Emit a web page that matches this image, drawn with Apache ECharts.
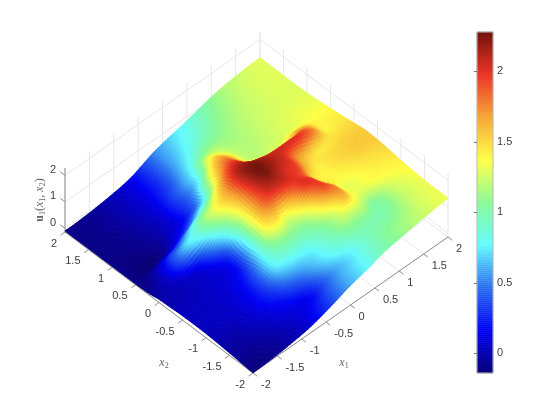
<!DOCTYPE html>
<html><head><meta charset="utf-8">
<style>html,body{margin:0;padding:0;background:#fff}#c{width:560px;height:420px}</style>
<script src="https://cdn.jsdelivr.net/npm/echarts@6/dist/echarts.min.js"></script>
</head><body><div id="c"></div>
<script>
const x1Values=[-2,-1.8,-1.6,-1.4,-1.2,-1,-.8,-.6,-.4,-.2,0,.2,.4,.6,.8,1,1.2,1.4,1.6,1.8,2];
const x2Values=[2,1.8,1.6,1.4,1.2,1,.8,.6,.4,.2,0,-.2,-.4,-.6,-.8,-1,-1.2,-1.4,-1.6,-1.8,-2];
const u_p20=[-.10,-.10,-.08,-.05,-.01,.04,.10,.20,.36,.52,.63,.72,.80,.90,1.00,1.10,1.17,1.22,1.26,1.29,1.30];
const u_p18=[-.10,-.10,-.08,-.05,-.01,.04,.10,.20,.36,.54,.66,.77,.85,.95,1.05,1.13,1.19,1.24,1.27,1.29,1.30];
const u_p16=[-.10,-.10,-.08,-.05,-.01,.04,.10,.21,.37,.56,.71,.83,.93,1.02,1.10,1.16,1.21,1.25,1.28,1.29,1.30];
const u_p14=[-.10,-.10,-.09,-.06,-.02,.04,.11,.25,.41,.63,.82,.98,1.04,1.09,1.14,1.19,1.23,1.26,1.28,1.29,1.29];
const u_p12=[-.10,-.10,-.09,-.07,-.03,.03,.12,.30,.50,.72,1.05,1.15,1.14,1.14,1.17,1.21,1.24,1.26,1.28,1.29,1.29];
const u_p10=[-.10,-.11,-.10,-.08,-.04,.02,.11,.28,.48,.82,1.38,1.32,1.20,1.17,1.19,1.23,1.26,1.28,1.29,1.30,1.30];
const u_p08=[-.10,-.12,-.12,-.10,-.06,.05,.13,.30,.62,1.30,1.65,1.50,1.25,1.19,1.21,1.24,1.28,1.30,1.33,1.33,1.33];
const u_p06=[-.10,-.13,-.14,-.10,.03,.20,.42,.72,1.00,1.60,1.85,1.60,1.30,1.22,1.24,1.27,1.30,1.33,1.35,1.36,1.37];
const u_p04=[-.10,-.08,.08,.30,.45,.70,.98,1.15,1.50,1.92,2.05,1.75,1.60,1.42,1.38,1.42,1.65,1.60,1.42,1.41,1.41];
const u_p02=[-.08,-.02,.12,.42,.72,.85,1.15,1.40,1.68,2.10,2.22,2.15,2.05,2.02,2.02,2.00,1.90,1.70,1.42,1.44,1.45];
const u_000=[-.02,.00,.03,.08,.15,.42,.75,1.15,1.55,2.05,2.28,2.22,2.12,2.00,1.75,1.60,1.48,1.46,1.48,1.49,1.50];
const u_m02=[.00,.00,.02,.04,.07,.12,.30,.85,1.45,1.95,2.20,2.15,2.02,1.95,1.65,1.45,1.47,1.50,1.53,1.54,1.55];
const u_m04=[.02,.02,.03,.05,.07,.10,.22,.72,1.45,1.85,1.95,2.00,2.00,1.85,1.48,1.40,1.45,1.50,1.54,1.55,1.55];
const u_m06=[.03,.03,.04,.05,.08,.14,.30,.75,1.35,1.50,1.35,1.55,1.95,1.95,1.55,1.40,1.40,1.44,1.48,1.50,1.52];
const u_m08=[.03,.03,.04,.06,.10,.18,.40,.78,1.05,1.12,1.10,1.15,1.45,1.88,1.75,1.35,1.33,1.38,1.42,1.44,1.47];
const u_m10=[.02,.03,.04,.06,.12,.20,.42,.75,.85,.88,.90,.98,1.12,1.35,1.65,1.38,1.30,1.36,1.38,1.40,1.42];
const u_m12=[.00,.00,.01,.05,.10,.20,.32,.52,.62,.68,.75,.88,1.02,1.18,1.22,1.20,1.05,1.12,1.27,1.33,1.38];
const u_m14=[-.03,-.03,-.02,.02,.07,.12,.18,.28,.38,.55,.70,.82,.90,1.00,1.02,1.00,1.00,1.08,1.22,1.29,1.35];
const u_m16=[-.06,-.06,-.05,-.02,.02,.07,.10,.12,.20,.38,.55,.66,.76,.88,.98,1.02,1.05,1.13,1.23,1.29,1.33];
const u_m18=[-.10,-.10,-.08,-.05,-.01,.03,.09,.17,.28,.44,.58,.68,.78,.90,1.00,1.08,1.13,1.18,1.25,1.30,1.33];
const u_m20=[-.13,-.12,-.10,-.07,-.02,.03,.10,.21,.33,.47,.60,.70,.80,.93,1.02,1.08,1.14,1.20,1.25,1.30,1.33];
const surfaceRows=[u_p20,u_p18,u_p16,u_p14,u_p12,u_p10,u_p08,u_p06,u_p04,u_p02,u_000,u_m02,u_m04,u_m06,u_m08,u_m10,u_m12,u_m14,u_m16,u_m18,u_m20];
const x1Ticks=[-2,-1.5,-1,-.5,0,.5,1,1.5,2];
const x2Ticks=[-2,-1.5,-1,-.5,0,.5,1,1.5,2];
const zTicks=[0,1,2];
const barTicks=[0,.5,1,1.5,2];
const zMin=-.14, zMax=2.28;
const jetColors=['#0a0078','#0000f5','#2a6ef0','#64faff','#88fa96','#ffff46','#f5a532','#eb3223','#73140c'];

const SUB=6;
function project(x1,x2,z){
  const a=x1+2,b=x2+2;
  return [253+48.75*a-47*b, 373-34*a-35.25*b-26.45*(z-zMin)];
}
function cr(p0,p1,p2,p3,t){
  return .5*(2*p1+(p2-p0)*t+(2*p0-5*p1+4*p2-p3)*t*t+(3*p1-p0-3*p2+p3)*t*t*t);
}
const nR=surfaceRows.length,nC=x1Values.length;
function at(r,c){r=Math.max(0,Math.min(nR-1,r));c=Math.max(0,Math.min(nC-1,c));return surfaceRows[r][c];}
function smooth(rf,cf){
  let r=Math.min(nR-2,Math.floor(rf)),c=Math.min(nC-2,Math.floor(cf));
  const tr=rf-r,tc=cf-c,col=[];
  for(let k=-1;k<=2;k++)col.push(cr(at(r+k,c-1),at(r+k,c),at(r+k,c+1),at(r+k,c+2),tc));
  return Math.max(zMin,Math.min(zMax,cr(col[0],col[1],col[2],col[3],tr)));
}
const N=(nR-1)*SUB+1,fine=[];
for(let r=0;r<N;r++){const row=[];for(let c=0;c<N;c++)row.push(smooth(r/SUB,c/SUB));fine.push(row);}
const h=.2/SUB;
const cells=[];
for(let s=2*(N-2);s>=0;s--){
  for(let c=Math.min(N-2,s);c>=0&&s-c<=N-2;c--){
    const dr=s-c,r=N-2-dr;
    const x1=-2+c*h,x2=2-r*h;
    const z=[fine[r][c],fine[r][c+1],fine[r+1][c+1],fine[r+1][c]];
    cells.push([(z[0]+z[1]+z[2]+z[3])/4,x1,x2,z[0],z[1],z[2],z[3]]);
  }
}
function renderCell(p,api){
  const x1=api.value(1),x2=api.value(2);
  const pts=[[x1,x2,api.value(3)],[x1+h,x2,api.value(4)],[x1+h,x2-h,api.value(5)],[x1,x2-h,api.value(6)]]
    .map(q=>api.coord(project(q[0],q[1],q[2])));
  const col=api.visual('color');
  return {type:'polygon',shape:{points:pts},style:{fill:col,stroke:col,lineWidth:1},silent:true};
}
const wall=[],axisSeg=[];
x1Ticks.forEach(t=>{
  wall.push([t,2,zMin,t,2,zMax]);
  wall.push([t,-2,zMin,t,2,zMin]);
  axisSeg.push([t,-2,zMin,t,-2.09,zMin]);
});
x2Ticks.forEach(t=>{
  wall.push([2,t,zMin,2,t,zMax]);
  wall.push([-2,t,zMin,2,t,zMin]);
  axisSeg.push([-2,t,zMin,-2.09,t,zMin]);
});
zTicks.forEach(t=>{
  wall.push([-2,2,t,2,2,t]);
  wall.push([2,2,t,2,-2,t]);
  axisSeg.push([-2,2,t,-2,2.1,t]);
});
axisSeg.push([-2,-2,zMin,2,-2,zMin]);
axisSeg.push([-2,-2,zMin,-2,2,zMin]);
axisSeg.push([-2,2,zMin,-2,2,zMax]);
function segRender(color){
  return function(p,api){
    const a=api.coord(project(api.value(0),api.value(1),api.value(2)));
    const b=api.coord(project(api.value(3),api.value(4),api.value(5)));
    return {type:'line',shape:{x1:a[0],y1:a[1],x2:b[0],y2:b[1]},style:{stroke:color,lineWidth:1},silent:true};
  };
}
const fmt=v=>String(v);
const labels=[];
x1Ticks.forEach(t=>labels.push([t,-2,zMin,fmt(t),8,12,'left']));
x2Ticks.forEach(t=>labels.push([-2,t,zMin,fmt(t),-8,11.5,'right']));
zTicks.forEach(t=>labels.push([-2,2,t,fmt(t),-9,-5.7,'right']));
function labelRender(p,api){
  const q=labels[api.value(0)];
  const c=api.coord(project(q[0],q[1],q[2]));
  return {type:'text',x:c[0]+q[4],y:c[1]+q[5],style:{text:q[3],align:q[6],verticalAlign:'middle',
    font:'11px "Liberation Sans"',fill:'#3c3c3c'},silent:true};
}
const barSteps=[];
const nb=170;
for(let i=0;i<nb;i++){const lo=zMin+(zMax-zMin)*i/nb,hi=zMin+(zMax-zMin)*(i+1)/nb;barSteps.push([(lo+hi)/2,lo,hi]);}
function barRender(p,api){
  const a=api.coord([0,api.value(1)]),b=api.coord([1,api.value(2)]);
  const col=api.visual('color');
  return {type:'rect',shape:{x:a[0],y:b[1],width:b[0]-a[0],height:a[1]-b[1]},style:{fill:col,stroke:col,lineWidth:.5},silent:true};
}
const sub={fontFamily:'Liberation Serif',fontSize:8,fill:'#666',verticalAlign:'bottom',padding:[5,0,0,0]};
const ital={fontFamily:'Liberation Serif',fontStyle:'italic',fontSize:12,fill:'#666'};
const chart=echarts.init(document.getElementById('c'),null,{renderer:'canvas'});
chart.setOption({
  animation:false,
  backgroundColor:'#fff',
  grid:[
    {left:0,top:0,width:560,height:420,show:false},
    {left:477,top:32,width:16,height:341,show:true,borderColor:'#bdbdbd',borderWidth:1,backgroundColor:'transparent',z:5}
  ],
  xAxis:[
    {gridIndex:0,type:'value',min:0,max:560,show:false},
    {gridIndex:1,type:'value',min:0,max:1,show:false}
  ],
  yAxis:[
    {gridIndex:0,type:'value',min:0,max:420,inverse:true,show:false},
    {gridIndex:1,type:'value',min:zMin,max:zMax,position:'right',splitLine:{show:false},
     axisLine:{show:false},
     axisTick:{show:true,inside:true,length:3,lineStyle:{color:'#777',width:1},customValues:barTicks},
     axisLabel:{show:true,margin:4,color:'#3c3c3c',fontFamily:'Liberation Sans',fontSize:11,customValues:barTicks,
       showMinLabel:true,showMaxLabel:true,formatter:v=>String(v)},z:6}
  ],
  visualMap:{show:false,type:'continuous',min:zMin,max:zMax,dimension:0,seriesIndex:[3,4],inRange:{color:jetColors}},
  graphic:[
    {type:'text',x:344,y:363,style:{text:'{i|x}{s|1}',align:'center',verticalAlign:'middle',rich:{i:ital,s:sub}}},
    {type:'text',x:164,y:363,style:{text:'{i|x}{s|2}',align:'center',verticalAlign:'middle',rich:{i:ital,s:sub}}},
    {type:'text',x:40,y:200,rotation:Math.PI/2,style:{text:'{b|u}{s|1}{p|(}{i|x}{s|1}{p|, }{i|x}{s|2}{p|)}',align:'center',verticalAlign:'middle',
      rich:{i:ital,s:sub,b:{fontFamily:'Liberation Serif',fontWeight:'bold',fontSize:12,fill:'#666'},p:{fontFamily:'Liberation Serif',fontSize:12,fill:'#666'}}}}
  ],
  series:[
    {type:'custom',name:'walls',xAxisIndex:0,yAxisIndex:0,coordinateSystem:'cartesian2d',data:wall,renderItem:segRender('#e8e8e8'),z:1,silent:true,clip:false,encode:{x:0,y:1}},
    {type:'custom',name:'axes',xAxisIndex:0,yAxisIndex:0,coordinateSystem:'cartesian2d',data:axisSeg,renderItem:segRender('#8f8f8f'),z:2,silent:true,clip:false,encode:{x:0,y:1}},
    {type:'custom',name:'tickLabels',xAxisIndex:0,yAxisIndex:0,coordinateSystem:'cartesian2d',data:labels.map((q,i)=>[i,0]),renderItem:labelRender,z:2,silent:true,clip:false,encode:{x:0,y:1}},
    {type:'custom',name:'surface',xAxisIndex:0,yAxisIndex:0,coordinateSystem:'cartesian2d',data:cells,renderItem:renderCell,z:3,silent:true,clip:false,progressive:0,encode:{x:1,y:2}},
    {type:'custom',name:'colorbar',xAxisIndex:1,yAxisIndex:1,coordinateSystem:'cartesian2d',data:barSteps,renderItem:barRender,z:4,silent:true,progressive:0,encode:{x:0,y:1}}
  ]
});
</script></body></html>
